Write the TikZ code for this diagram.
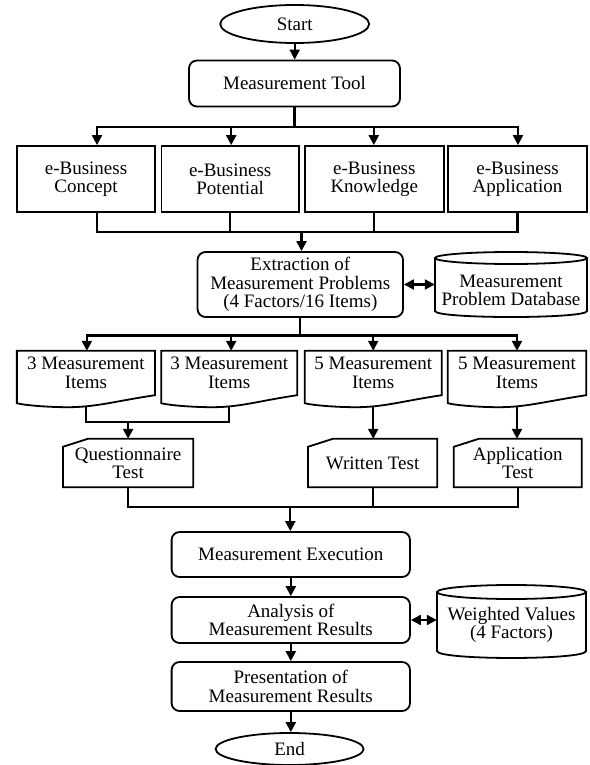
\documentclass[tikz,border=0pt]{standalone}
\usepackage{fontspec}
\setmainfont{Liberation Serif}
\usetikzlibrary{arrows.meta,shapes.geometric,calc}
\pgfdeclarelayer{back}
\pgfdeclarelayer{mid}
\pgfsetlayers{back,mid,main}
\begin{document}
\begin{tikzpicture}[x=1pt,y=-1pt,
  every node/.style={font=\fontsize{19}{18.5}\selectfont, align=center, inner sep=0pt},
  lw/.style={line width=1.8pt},
  term/.style={ellipse, draw, lw},
  proc/.style={rectangle, rounded corners=8pt, draw, lw},
  plain/.style={rectangle, draw, lw},
  ghost/.style={rectangle},
  tight/.style={font=\fontsize{19}{18}\selectfont},
  conn/.style={line width=2.2pt},
  arr/.style={conn, -{Triangle[length=10pt,width=10pt]}},
  darr/.style={conn, {Triangle[length=10pt,width=10pt]}-{Triangle[length=10pt,width=10pt]}}
]
\useasboundingbox (0,0) rectangle (589,765);

% nodes
\node[term, minimum width=149pt, minimum height=38pt] (start) at (294.7,24) {Start};
\node[proc, minimum width=211pt, minimum height=46pt] (tool) at (294.5,83.5) {Measurement Tool};
\node[plain, tight, minimum width=138pt, minimum height=66pt] (c1) at (86,179) {e-Business\\Concept};
\node[plain, tight, minimum width=137.5pt, minimum height=66pt] (c2) at (230.2,179) {e-Business\\Potential};
\node[plain, tight, minimum width=139pt, minimum height=66pt] (c3) at (374.3,179) {e-Business\\Knowledge};
\node[plain, tight, minimum width=139pt, minimum height=66pt] (c4) at (517.5,179) {e-Business\\Application};
\node[proc, minimum width=205.5pt, minimum height=65pt] (ext) at (300.3,284.5) {Extraction of\\Measurement Problems\\(4 Factors/16 Items)};
\node[ghost, minimum width=152pt, minimum height=65pt] (db1) at (511,290.5) {Measurement\\Problem Database};
\node[ghost, minimum width=137.7pt, minimum height=44pt] (d1) at (85.9,373) {3 Measurement\\Items};
\node[ghost, minimum width=135.5pt, minimum height=44pt] (d2) at (229.2,373) {3 Measurement\\Items};
\node[ghost, minimum width=136.5pt, minimum height=44pt] (d3) at (373.2,373) {5 Measurement\\Items};
\node[ghost, minimum width=138pt, minimum height=44pt] (d4) at (517,373) {5 Measurement\\Items};
\node[ghost, tight, minimum width=130pt, minimum height=48pt] (q) at (128.1,463) {Questionnaire\\Test};
\node[ghost, minimum width=129pt, minimum height=48pt, text height=13pt, text depth=0pt] (w) at (372.6,463) {Written Test};
\node[ghost, tight, minimum width=127.5pt, minimum height=48pt] (a) at (517.7,463) {Application\\Test};
\node[proc, minimum width=238.4pt, minimum height=45pt] (exec) at (290.8,554.5) {Measurement Execution};
\node[proc, minimum width=238.4pt, minimum height=46pt] (anal) at (290.8,620) {Analysis of\\Measurement Results};
\node[ghost, minimum width=149pt, minimum height=73pt] (db2) at (511.5,625) {Weighted Values\\(4 Factors)};
\node[proc, minimum width=238.4pt, minimum height=49pt] (pres) at (290.8,686.5) {Presentation of\\Measurement Results};
\node[term, minimum width=148pt, minimum height=32pt] (end) at (289.6,749) {End};

% shapes drawn behind text
\begin{pgfonlayer}{mid}
\foreach \n in {d1,d2,d3,d4}
  \draw[lw, fill=white] (\n.north west) -- (\n.north east) -- (\n.south east)
    .. controls +(-40,6) and +(28,0) .. ($(\n.south west)+(51,12)$)
    .. controls +(-20,0) and +(7,2) .. ($(\n.south west)+(0,8)$) -- cycle;
\foreach \n in {q,w,a}
  \draw[lw, fill=white] ($(\n.north west)+(25,0)$) -- (\n.north east) -- (\n.south east)
    -- (\n.south west) -- ($(\n.north west)+(0,8)$) -- cycle;
% cylinder 1
\draw[lw, fill=white] (435,258) -- (435,311) .. controls (435,319) and (587,319) .. (587,311) -- (587,258);
\draw[lw, fill=white] (511,258) ellipse [x radius=76pt, y radius=6pt];
% cylinder 2
\draw[lw, fill=white] (437,592) -- (437,651) .. controls (437,660.3) and (586,660.3) .. (586,651) -- (586,592);
\draw[lw, fill=white] (511.5,592) ellipse [x radius=74.5pt, y radius=7pt];
\end{pgfonlayer}

% connectors
\begin{pgfonlayer}{back}
\draw[arr] (start.south) -- (start.south |- tool.north);
\draw[conn] (tool.south) -- ++(0,19.5) coordinate (j1);
\draw[arr] (j1) -| ($(c1.north)+(11,0)$);
\draw[arr] (j1) -| ($(c2.north)+(1,0)$);
\draw[arr] (j1) -| ($(c3.north)+(-0.5,0)$);
\draw[arr] (j1) -| ($(c4.north)+(0.5,0)$);

\coordinate (j2) at (301.5,232);
\draw[conn] ($(c1.south)+(11,0)$) |- (j2);
\draw[conn] (c2.south) |- (j2);
\draw[conn] (c3.south) |- (j2);
\draw[conn] (c4.south) |- (j2);
\draw[arr] (j2) -- (j2 |- ext.north);

\draw[darr] (ext.east) -- (ext.east -| db1.west);

\draw[conn] (ext.south) -- ++(0,17.5) coordinate (j3);
\draw[arr] (j3) -| ($(d1.north)+(1,0)$);
\draw[arr] (j3) -| ($(d2.north)+(2,0)$);
\draw[arr] (j3) -| (d3.north);
\draw[arr] (j3) -| (d4.north);

\coordinate (j4) at (128.1,422);
\draw[conn] (d1.south) |- (j4);
\draw[conn] (d2.south) |- (j4);
\draw[arr] (j4) -- (q.north);
\draw[arr] (d3.south) -- (d3.south |- w.north);
\draw[arr] (d4.south) -- (d4.south |- a.north);

\coordinate (j5) at (290.3,507);
\draw[conn] (q.south) |- (j5);
\draw[conn] (w.south) |- (j5);
\draw[conn] (a.south) |- (j5);
\draw[arr] (j5) -- (j5 |- exec.north);

\draw[arr] (exec.south) -- (anal.north);
\draw[darr] (anal.east) -- (anal.east -| db2.west);
\draw[arr] (anal.south) -- (pres.north);
\draw[arr] (pres.south) -- (pres.south |- end.north);
\end{pgfonlayer}
\end{tikzpicture}
\end{document}
